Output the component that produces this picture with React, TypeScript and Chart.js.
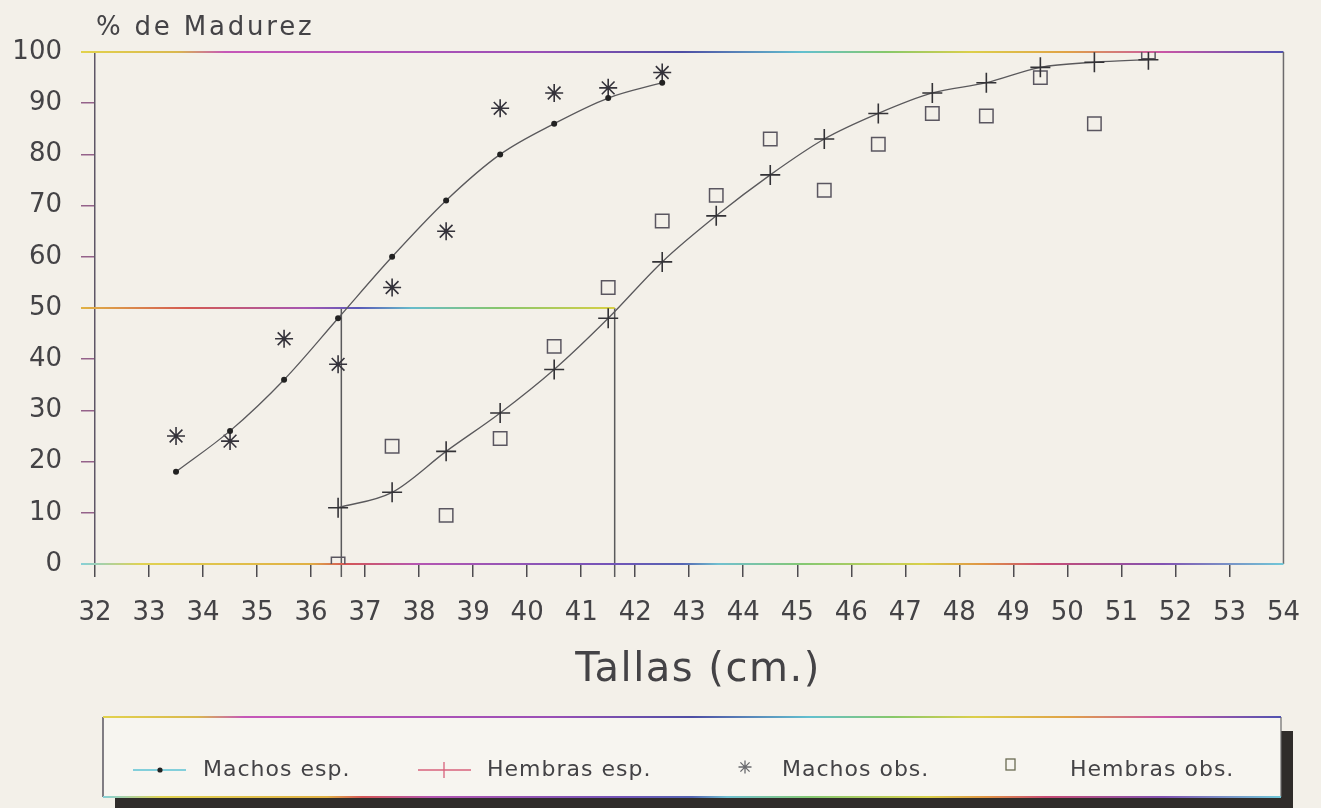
import { useEffect, useRef } from "react";
import { Chart, registerables } from "chart.js";

Chart.register(...registerables);

// Tallas (cm) de cada clase y porcentajes de madurez
const tallasMachos = [33.5, 34.5, 35.5, 36.5, 37.5, 38.5, 39.5, 40.5, 41.5, 42.5];
const machosEsperados = [18, 26, 36, 48, 60, 71, 80, 86, 91, 94];
const machosObservados = [25, 24, 44, 39, 54, 65, 89, 92, 93, 96];

const tallasHembras = [
  36.5, 37.5, 38.5, 39.5, 40.5, 41.5, 42.5, 43.5, 44.5, 45.5, 46.5, 47.5, 48.5, 49.5, 50.5, 51.5,
];
const hembrasEsperadas = [11, 14, 22, 29.5, 38, 48, 59, 68, 76, 83, 88, 92, 94, 97, 98, 98.5];
const hembrasObservadas = [0, 23, 9.5, 24.5, 42.5, 54, 67, 72, 83, 73, 82, 88, 87.5, 95, 86, 100];

// Talla de primera madurez (50 %): machos, hembras
const tallasMadurez50 = [36.56, 41.62];
const nivelMadurez = 50;

const tallaMin = 32;
const tallaMax = 54;
const porcentajeMax = 100;

const etiquetasSeries = ["Machos esp.", "Hembras esp.", "Machos obs.", "Hembras obs."];
const tituloY = "% de Madurez";
const tituloX = "Tallas (cm.)";

const FONT = '"DejaVu Sans", "Liberation Sans", sans-serif';
const PAPER = "#f3f0e9";
const INK = "#444346";

type Stop = [number, string];

const stopsTop: Stop[] = [
  [0, "#e2d24c"], [0.08, "#d9b84e"], [0.12, "#c657b8"], [0.38, "#9a4fb6"],
  [0.5, "#4e4ea4"], [0.6, "#62c0cf"], [0.67, "#86c86a"], [0.74, "#dccf4a"],
  [0.82, "#e0a246"], [0.9, "#c955a6"], [1, "#5052b0"],
];
const stopsMid: Stop[] = [
  [0, "#e0b245"], [0.2, "#d45a52"], [0.42, "#a656b2"], [0.52, "#5a5ab8"],
  [0.62, "#66bccb"], [0.78, "#86c66e"], [1, "#d8d044"],
];
const stopsBottom: Stop[] = [
  [0, "#86d0d8"], [0.05, "#e0d252"], [0.19, "#e0b044"], [0.22, "#d45656"],
  [0.28, "#b456b2"], [0.44, "#7454b8"], [0.5, "#5464b2"], [0.53, "#70c0d0"],
  [0.6, "#84c872"], [0.7, "#d8d04a"], [0.75, "#e09444"], [0.8, "#c84c74"],
  [0.9, "#8252b2"], [1, "#70c8d8"],
];

function gradientLine(
  ctx: CanvasRenderingContext2D,
  x1: number,
  y1: number,
  x2: number,
  y2: number,
  stops: Stop[],
  width = 2
) {
  const g = ctx.createLinearGradient(x1, y1, x2, y2);
  stops.forEach(([o, c]) => g.addColorStop(o, c));
  ctx.save();
  ctx.strokeStyle = g;
  ctx.lineWidth = width;
  ctx.beginPath();
  ctx.moveTo(x1, y1);
  ctx.lineTo(x2, y2);
  ctx.stroke();
  ctx.restore();
}

function plainLine(
  ctx: CanvasRenderingContext2D,
  x1: number,
  y1: number,
  x2: number,
  y2: number,
  color: string,
  width = 1.5
) {
  ctx.save();
  ctx.strokeStyle = color;
  ctx.lineWidth = width;
  ctx.beginPath();
  ctx.moveTo(x1, y1);
  ctx.lineTo(x2, y2);
  ctx.stroke();
  ctx.restore();
}

function drawStar(ctx: CanvasRenderingContext2D, cx: number, cy: number, r: number) {
  ctx.beginPath();
  for (let i = 0; i < 4; i++) {
    const a = (i * Math.PI) / 4;
    ctx.moveTo(cx - Math.sin(a) * r, cy - Math.cos(a) * r);
    ctx.lineTo(cx + Math.sin(a) * r, cy + Math.cos(a) * r);
  }
  ctx.stroke();
}

const TICK = 14;

const paperPlugin = {
  id: "paperPlugin",
  beforeDraw(chart: any) {
    const { ctx, width, height } = chart;
    ctx.save();
    ctx.fillStyle = PAPER;
    ctx.fillRect(0, 0, width, height);
    ctx.restore();
  },
  beforeDatasetsDraw(chart: any) {
    const { ctx, chartArea, scales } = chart;
    const xs = scales.x;
    const ys = scales.y;
    const left = chartArea.left - TICK;
    const yTop = ys.getPixelForValue(porcentajeMax);
    const yZero = ys.getPixelForValue(0);

    // marco superior y derecho
    gradientLine(ctx, left, yTop, chartArea.right, yTop, stopsTop, 2);
    plainLine(ctx, chartArea.right, yTop, chartArea.right, yZero, "#6c6a6c", 1.5);

    // línea del 50 % y tallas de primera madurez
    const y50 = ys.getPixelForValue(nivelMadurez);
    const px = tallasMadurez50.map((v) => xs.getPixelForValue(v));
    px.forEach((p) => plainLine(ctx, p, y50, p, yZero + TICK - 1, "#5a5a5c", 1.5));
    gradientLine(ctx, left, y50, Math.max(...px), y50, stopsMid, 2);

    // eje de abscisas
    gradientLine(ctx, left, yZero, chartArea.right, yZero, stopsBottom, 2);
  },
  afterDraw(chart: any) {
    const { ctx, chartArea } = chart;
    ctx.save();

    // título del eje Y
    ctx.fillStyle = INK;
    ctx.font = `26px ${FONT}`;
    (ctx as any).letterSpacing = "2.8px";
    ctx.textAlign = "left";
    ctx.textBaseline = "alphabetic";
    ctx.fillText(tituloY, chartArea.left + 1, 35);

    // título del eje X
    ctx.font = `40px ${FONT}`;
    (ctx as any).letterSpacing = "1.5px";
    ctx.textAlign = "center";
    ctx.fillText(tituloX, 698, 681);
    (ctx as any).letterSpacing = "0px";

    // leyenda con sombra
    const bx = 103;
    const by = 717;
    const bw = 1178;
    const bh = 80;
    ctx.fillStyle = "#2f2c2a";
    ctx.fillRect(bx + 12, by + 14, bw, bh);
    ctx.fillStyle = "#f7f5f0";
    ctx.fillRect(bx, by, bw, bh);
    plainLine(ctx, bx, by, bx, by + bh, "#5a5660", 1.5);
    plainLine(ctx, bx + bw, by, bx + bw, by + bh, "#6a6a6a", 1.2);
    gradientLine(ctx, bx, by, bx + bw, by, stopsTop, 2);
    gradientLine(ctx, bx, by + bh, bx + bw, by + bh, stopsBottom, 2);

    const ly = 770;
    ctx.font = `22px ${FONT}`;
    ctx.textAlign = "left";
    ctx.textBaseline = "middle";
    (ctx as any).letterSpacing = "1px";

    // Machos esp.
    plainLine(ctx, 133, ly, 186, ly, "#5cc2d4", 1.5);
    ctx.fillStyle = "#222";
    ctx.beginPath();
    ctx.arc(160, ly, 2.6, 0, Math.PI * 2);
    ctx.fill();
    ctx.fillStyle = INK;
    ctx.fillText(etiquetasSeries[0], 203, ly);

    // Hembras esp.
    plainLine(ctx, 418, ly, 471, ly, "#d8627c", 1.5);
    plainLine(ctx, 444, ly - 8, 444, ly + 8, "#d8627c", 1.3);
    ctx.fillText(etiquetasSeries[1], 487, ly);

    // Machos obs.
    ctx.strokeStyle = "#6a6a6e";
    ctx.lineWidth = 1.3;
    drawStar(ctx, 745, ly - 3, 6.5);
    ctx.fillText(etiquetasSeries[2], 782, ly);

    // Hembras obs.
    ctx.strokeStyle = "#6a6a52";
    ctx.lineWidth = 1.3;
    ctx.strokeRect(1006, ly - 11, 9, 11);
    ctx.fillText(etiquetasSeries[3], 1070, ly);

    ctx.restore();
  },
};

export default function App() {
  const canvasRef = useRef<HTMLCanvasElement | null>(null);

  useEffect(() => {
    const canvas = canvasRef.current;
    if (!canvas) return;

    const puntos = (xs: number[], ys: number[]) => xs.map((x, i) => ({ x, y: ys[i] }));

    const chart = new Chart(canvas, {
      type: "line",
      data: {
        datasets: [
          {
            label: etiquetasSeries[0],
            data: puntos(tallasMachos, machosEsperados),
            borderColor: "#5a595c",
            borderWidth: 1.3,
            cubicInterpolationMode: "monotone",
            pointStyle: "circle",
            pointRadius: 3,
            pointBackgroundColor: "#222",
            pointBorderWidth: 0,
            fill: false,
          },
          {
            label: etiquetasSeries[1],
            data: puntos(tallasHembras, hembrasEsperadas),
            borderColor: "#5a595c",
            borderWidth: 1.3,
            cubicInterpolationMode: "monotone",
            pointStyle: "cross",
            pointRadius: 10,
            pointBorderColor: "#333236",
            pointBorderWidth: 1.6,
            fill: false,
          },
          {
            label: etiquetasSeries[2],
            data: puntos(tallasMachos, machosObservados),
            showLine: false,
            pointStyle: "star",
            pointRadius: 9,
            pointBorderColor: "#34323a",
            pointBorderWidth: 1.6,
          },
          {
            label: etiquetasSeries[3],
            data: puntos(tallasHembras, hembrasObservadas),
            showLine: false,
            pointStyle: "rect",
            pointRadius: 9.5,
            pointBackgroundColor: "rgba(0,0,0,0)",
            pointBorderColor: "#5a5660",
            pointBorderWidth: 1.5,
          },
        ],
      },
      options: {
        responsive: false,
        animation: false,
        devicePixelRatio: 1,
        layout: { padding: { top: 52, right: 34, left: 0, bottom: 0 } },
        plugins: {
          legend: { display: false },
          tooltip: { enabled: false },
        },
        scales: {
          x: {
            type: "linear",
            min: tallaMin,
            max: tallaMax,
            afterFit: (s: any) => {
              s.height = 244;
            },
            ticks: {
              stepSize: 1,
              autoSkip: false,
              maxRotation: 0,
              padding: 21,
              color: INK,
              font: { family: FONT, size: 26 },
            },
            grid: {
              drawOnChartArea: false,
              drawTicks: true,
              tickLength: 13,
              lineWidth: 1.5,
              color: (c: any) => (c.tick && c.tick.value === tallaMax ? "rgba(0,0,0,0)" : "#4e4c50"),
            },
            border: { display: false },
          },
          y: {
            type: "linear",
            min: 0,
            max: porcentajeMax,
            afterFit: (s: any) => {
              s.width = 95;
            },
            ticks: {
              stepSize: 10,
              padding: 19,
              color: INK,
              font: { family: FONT, size: 26 },
            },
            grid: {
              drawOnChartArea: false,
              drawTicks: true,
              tickLength: TICK,
              lineWidth: 1.5,
              color: "#94628a",
            },
            border: { display: true, color: "#5e5666", width: 1.5 },
          },
        },
      },
      plugins: [paperPlugin],
    });

    return () => chart.destroy();
  }, []);

  return (
    <div
      style={{
        position: "fixed",
        left: 0,
        top: 0,
        width: 1321,
        height: 808,
        background: PAPER,
      }}
    >
      <canvas ref={canvasRef} width={1321} height={808} style={{ display: "block" }} />
    </div>
  );
}
